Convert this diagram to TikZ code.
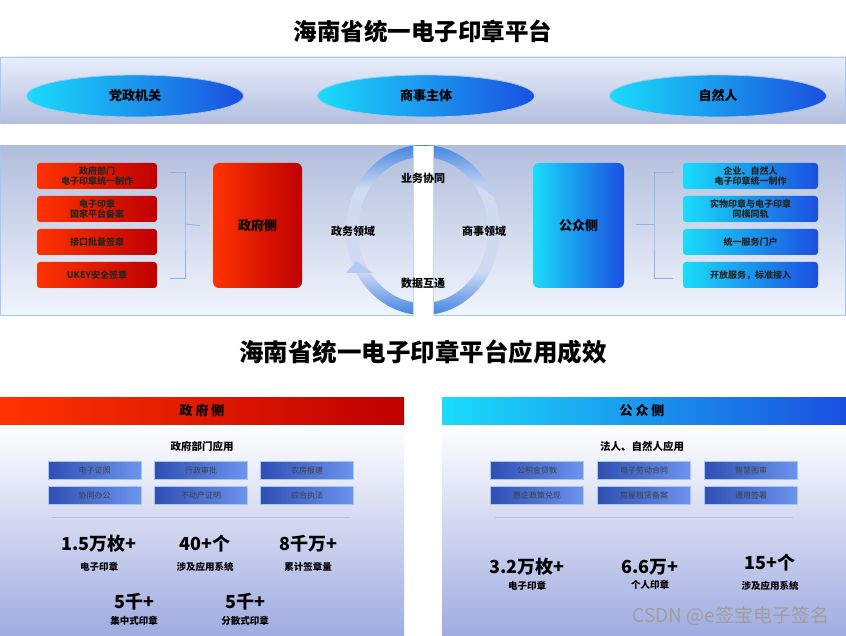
\documentclass[tikz,border=0pt]{standalone}
\usepackage{fontspec}
\setmainfont{Noto Sans CJK SC}
\usetikzlibrary{positioning,shapes.geometric}

\definecolor{redL}{HTML}{FF3300}
\definecolor{redR}{HTML}{BE0000}
\definecolor{cyanL}{HTML}{1ADCFA}
\definecolor{blueR}{HTML}{1A4FE0}
\definecolor{bandLight}{HTML}{E8EEFB}
\definecolor{bandDark}{HTML}{B2BEDD}
\definecolor{bandEdge}{HTML}{A6C8F2}
\definecolor{appL}{HTML}{2F4FB3}
\definecolor{appR}{HTML}{6C94EE}
\definecolor{ringB}{HTML}{4285E3}
\definecolor{ringL}{HTML}{D0DBF2}
\definecolor{brk}{HTML}{8FB0E8}

\pgfdeclareverticalshading{ringfade}{100bp}{color(0bp)=(ringB); color(25bp)=(ringB);
  color(38bp)=(ringL); color(62bp)=(ringL); color(75bp)=(ringB); color(100bp)=(ringB)}

\tikzset{
  party/.style={ellipse, minimum width=217pt, minimum height=42pt, left color=cyanL, right color=blueR, draw=bandEdge, line width=0.8pt, font=\bfseries\fontsize{13}{15}\selectfont},
  redbox/.style={rounded corners=3pt, left color=redL, right color=redR, minimum width=120pt, minimum height=26pt, align=center, inner sep=1pt, font=\bfseries\fontsize{9}{10.5}\selectfont, text=black!85},
  bluebox/.style={redbox, left color=cyanL, right color=blueR, minimum width=135pt},
  sidebox/.style={rounded corners=6pt, minimum height=125pt, font=\bfseries\fontsize{13}{15}\selectfont},
  brkline/.style={draw=brk, line width=0.8pt},
  ringlbl/.style={font=\bfseries\fontsize{11}{13}\selectfont},
  appbox/.style={minimum width=93pt, minimum height=18pt, left color=appL, right color=appR, draw=bandEdge, line width=0.6pt, inner sep=0pt, font=\fontsize{8}{9}\selectfont, text=black!75},
  head/.style={font=\bfseries\fontsize{10.5}{12}\selectfont},
  statnum/.style={inner sep=0pt, font=\bfseries\fontsize{18}{20}\selectfont},
  statlbl/.style={inner sep=0pt, font=\bfseries\fontsize{9.5}{11}\selectfont}
}

\begin{document}
\begin{tikzpicture}[x=1pt,y=-1pt]
  \useasboundingbox (0,0) rectangle (846,636);
  \fill[white] (0,0) rectangle (846,636);

  % titles
  \node[font=\bfseries\fontsize{23.5}{26}\selectfont] (t1) at (423,31) {海南省统一电子印章平台};
  \node[font=\bfseries\fontsize{24.5}{27}\selectfont] (t2) at (423,352) {海南省统一电子印章平台应用成效};

  % top band
  \shade[top color=bandLight, bottom color=bandDark] (0,57) rectangle (846,124);
  \draw[bandEdge, line width=0.8pt] (0.5,124) |- (845.5,57.5) -- (845.5,124);
  \node[party] (dz) at (135,96) {党政机关};
  \node[party] (ss) at (426,96) {商事主体};
  \node[party] (zr) at (718,96) {自然人};

  % middle band
  \shade[top color=bandDark, bottom color=bandLight!60!white] (0,146) rectangle (846,316);
  \draw[bandEdge, line width=0.8pt] (0.5,146) |- (845.5,315.5) -- (845.5,146);

  % ring
  \shade[shading=ringfade, even odd rule]
    (423,230) ellipse [x radius=77, y radius=85] (423,230) ellipse [x radius=65, y radius=73];
  \fill[ringL!80!ringB] (346,273) -- (373,273) -- (356,261) -- cycle;
  \fill[ringL!85!ringB] (478,185) -- (503,185) -- (494,197) -- cycle;
  \fill[white] (413,146) rectangle (433,316);
  \draw[bandEdge!70!white, line width=0.5pt] (413,146) -- (413,316) (433,146) -- (433,316);
  \node[ringlbl] (yw) at (423,178) {业务协同};
  \node[ringlbl] (zw) at (353,231) {政务领域};
  \node[ringlbl] (sw) at (484,231) {商事领域};
  \node[ringlbl] (sj) at (423,283) {数据互通};

  % government side
  \node[redbox] (g1) at (97,176) {政府部门\\电子印章统一制作};
  \node[redbox] (g2) at (97,209) {电子印章\\国家平台备案};
  \node[redbox] (g3) at (97,242) {接口批量签章};
  \node[redbox] (g4) at (97,275) {UKEY安全签章};
  \node[sidebox, left color=redL, right color=redR, minimum width=89pt] (gov) at (257.5,225.5) {政府侧};
  \coordinate (gk) at (185,224);
  \draw[brkline] ([xshift=13pt,yshift=4pt]g1.east) -| (gk) |- ([xshift=13pt,yshift=-3pt]g4.east);
  \draw[brkline] (gk) -- ([xshift=-13pt]gov.west);

  % public side
  \node[sidebox, left color=cyanL, right color=blueR, minimum width=91pt] (pub) at (578.5,225.5) {公众侧};
  \node[bluebox] (p1) at (750.5,176) {企业、自然人\\电子印章统一制作};
  \node[bluebox] (p2) at (750.5,209) {实物印章与电子印章\\同模同轨};
  \node[bluebox] (p3) at (750.5,242) {统一服务门户};
  \node[bluebox] (p4) at (750.5,275) {开放服务，标准接入};
  \coordinate (pk) at (654,224);
  \draw[brkline] ([xshift=-10pt,yshift=4pt]p1.west) -| (pk) |- ([xshift=-10pt,yshift=-3pt]p4.west);
  \draw[brkline] (pk) -- ([xshift=-18pt]pk);

  % lower left panel
  \shade[left color=redL, right color=redR] (0,397) rectangle (404,425);
  \shade[top color=white, bottom color=bandDark!90!blue] (0,425) rectangle (404,636);
  \node[font=\bfseries\fontsize{13}{15}\selectfont] (gh) at (202,411) {政 府 侧};
  \node[head] (ga) at (202,446) {政府部门应用};
  \node[appbox] (ga1) at (94.5,470) {电子证照};
  \node[appbox] (ga2) at (201,470) {行政审批};
  \node[appbox] (ga3) at (307,470) {农房报建};
  \node[appbox] (ga4) at (94.5,495) {协同办公};
  \node[appbox] (ga5) at (201,495) {不动产证明};
  \node[appbox] (ga6) at (307,495) {综合执法};
  \draw[bandEdge, line width=0.8pt] (52,517) -- (350,517);
  \node[statnum] (gn1) at (99,544) {1.5万枚+};
  \node[statlbl, below=9pt of gn1] {电子印章};
  \node[statnum] (gn2) at (205,544) {40+个};
  \node[statlbl, below=9pt of gn2] {涉及应用系统};
  \node[statnum] (gn3) at (308,544) {8千万+};
  \node[statlbl, below=9pt of gn3] {累计签章量};
  \node[statnum] (gn4) at (134,602) {5千+};
  \node[statlbl, below=5pt of gn4] {集中式印章};
  \node[statnum] (gn5) at (245,602) {5千+};
  \node[statlbl, below=5pt of gn5] {分散式印章};

  % lower right panel
  \shade[left color=cyanL, right color=blueR] (442,397) rectangle (846,425);
  \shade[top color=white, bottom color=bandDark!90!blue] (442,425) rectangle (846,636);
  \node[font=\bfseries\fontsize{13}{15}\selectfont] (ph) at (642,411) {公 众 侧};
  \node[head] (pa) at (642,446) {法人、自然人应用};
  \node[appbox] (pa1) at (537,470) {公积金贷款};
  \node[appbox] (pa2) at (644,470) {电子劳动合同};
  \node[appbox] (pa3) at (751,470) {智慧图审};
  \node[appbox] (pa4) at (537,495) {惠企政策兑现};
  \node[appbox] (pa5) at (644,495) {房屋租赁备案};
  \node[appbox] (pa6) at (751,495) {通用签署};
  \draw[bandEdge, line width=0.8pt] (495,517) -- (793,517);
  \node[statnum] (pn1) at (527,567) {3.2万枚+};
  \node[statlbl, below=5pt of pn1] {电子印章};
  \node[statnum] (pn2) at (650,567) {6.6万+};
  \node[statlbl, below=5pt of pn2] {个人印章};
  \node[statnum] (pn3) at (770,563) {15+个};
  \node[statlbl, below=9pt of pn3] {涉及应用系统};

  % watermark
  \node[font=\fontsize{19}{21}\selectfont, text=black!38] (wm) at (731,616) {CSDN @e签宝电子签名};
\end{tikzpicture}
\end{document}
